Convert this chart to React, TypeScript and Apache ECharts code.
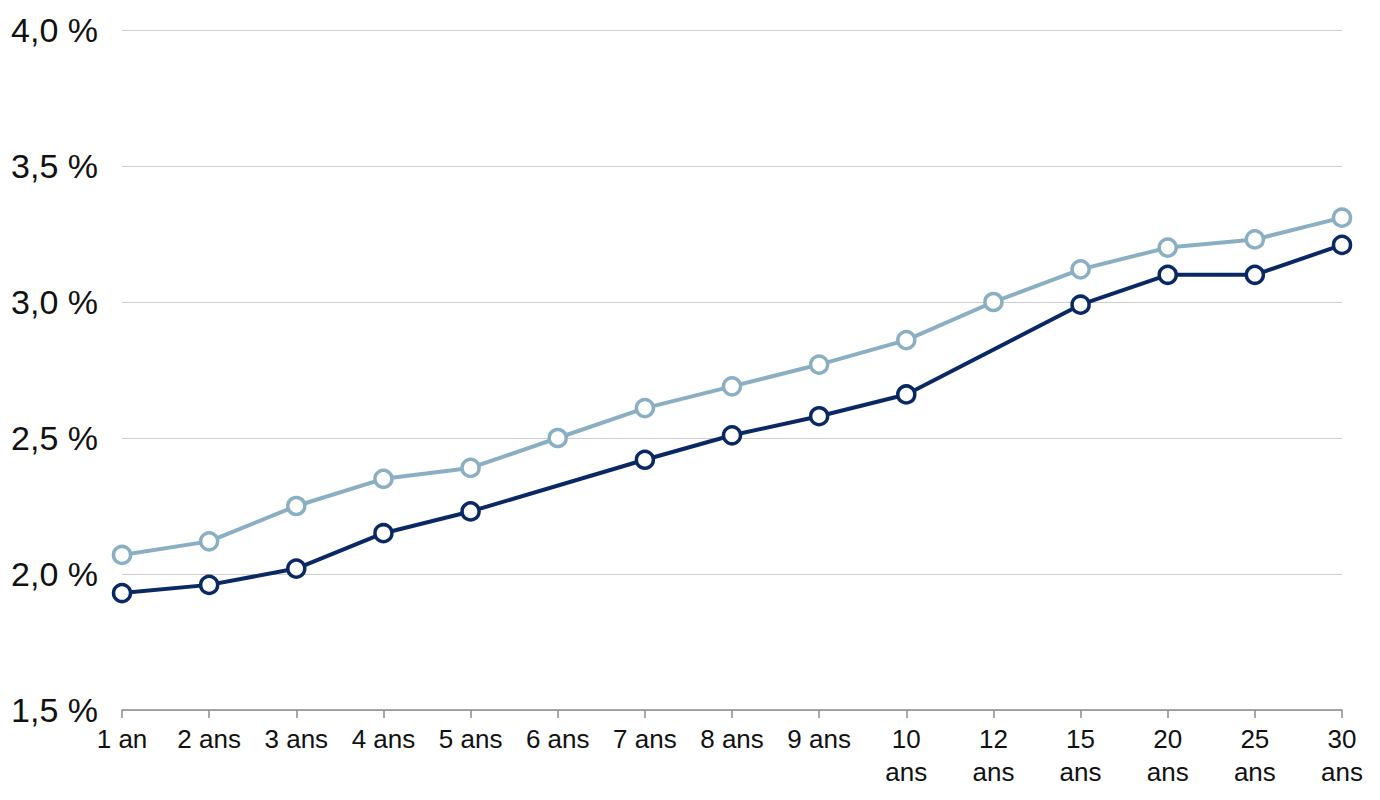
import React, { useEffect, useRef } from "react";
import * as echarts from "echarts";

const categories = ["1 an", "2 ans", "3 ans", "4 ans", "5 ans", "6 ans", "7 ans", "8 ans", "9 ans", "10 ans", "12 ans", "15 ans", "20 ans", "25 ans", "30 ans"];
const lightSeries = [2.07, 2.12, 2.25, 2.35, 2.39, 2.5, 2.61, 2.69, 2.77, 2.86, 3.0, 3.12, 3.2, 3.23, 3.31];
const darkSeries: (number | null)[] = [1.93, 1.96, 2.02, 2.15, 2.23, null, 2.42, 2.51, 2.58, 2.66, null, 2.99, 3.1, 3.1, 3.21];
const yTicks = { min: 1.5, max: 4.0, interval: 0.5 };

const FONT = "'Liberation Sans', 'DejaVu Sans', sans-serif";

export default function App() {
  const ref = useRef<HTMLDivElement>(null);
  useEffect(() => {
    document.body.style.margin = "0";
    const chart = echarts.init(ref.current!, undefined, { renderer: "svg" });
    chart.setOption({
      animation: false,
      backgroundColor: "#ffffff",
      grid: { left: 122, right: 38, top: 30, bottom: 90, containLabel: false },
      xAxis: {
        type: "category",
        data: categories,
        boundaryGap: false,
        axisLine: { lineStyle: { color: "#8c8c8c", width: 1.5 } },
        axisTick: { show: true, length: 8, lineStyle: { color: "#8c8c8c", width: 1.5 } },
        axisLabel: {
          interval: 0,
          margin: 12,
          color: "#111",
          fontFamily: FONT,
          fontSize: 26,
          lineHeight: 33,
          formatter: (v: string) => {
            const [n, u] = v.split(" ");
            return parseInt(n, 10) >= 10 ? n + "\n" + u : v;
          },
        },
        splitLine: { show: false },
      },
      yAxis: {
        type: "value",
        min: yTicks.min,
        max: yTicks.max,
        interval: yTicks.interval,
        axisLine: { show: false },
        axisTick: { show: false },
        axisLabel: {
          margin: 24,
          color: "#111",
          fontFamily: FONT,
          fontSize: 34,
          formatter: (v: number) => v.toFixed(1).replace(".", ",") + " %",
        },
        splitLine: { lineStyle: { color: "#cccccc", width: 1.2 } },
      },
      series: [
        {
          type: "line",
          data: lightSeries,
          symbol: "circle",
          symbolSize: 17,
          lineStyle: { color: "#8aafc2", width: 4 },
          itemStyle: { color: "#ffffff", borderColor: "#8aafc2", borderWidth: 3.5 },
          z: 2,
        },
        {
          type: "line",
          data: darkSeries,
          connectNulls: true,
          symbol: "circle",
          symbolSize: 17,
          lineStyle: { color: "#0a2864", width: 4 },
          itemStyle: { color: "#ffffff", borderColor: "#0a2864", borderWidth: 3.5 },
          z: 3,
        },
      ],
    });
    return () => chart.dispose();
  }, []);
  return <div ref={ref} style={{ position: "absolute", left: 0, top: 0, width: 1380, height: 800 }} />;
}
